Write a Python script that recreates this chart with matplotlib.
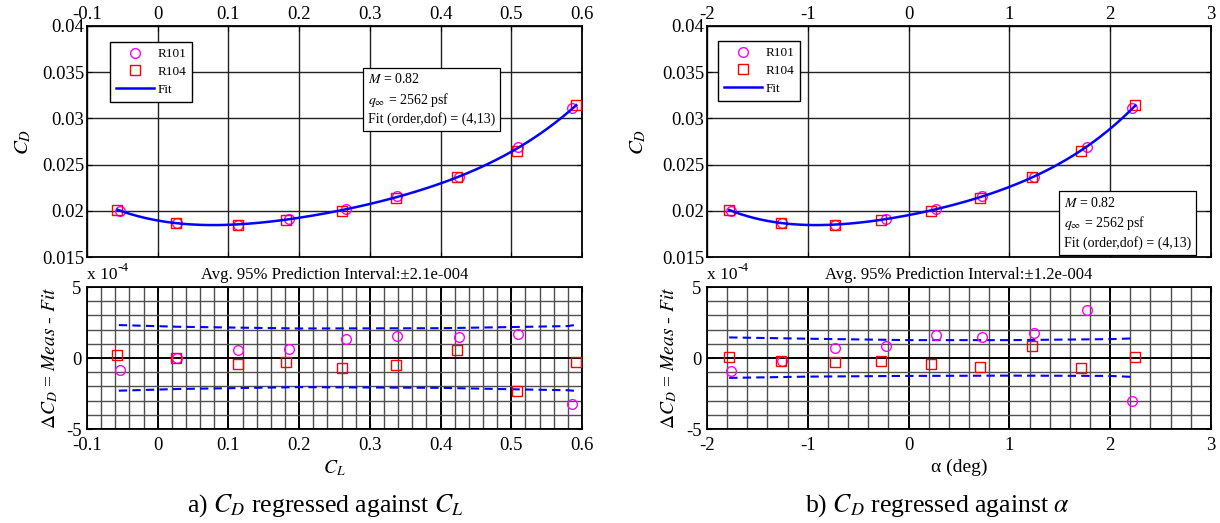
import numpy as np
import matplotlib.pyplot as plt
from matplotlib.ticker import MultipleLocator, FormatStrFormatter

# ========================= data ==============================================

# run R101 / R104 measurements against lift coefficient
cl_r101 = [-0.053, 0.028, 0.113, 0.185, 0.266, 0.339, 0.426, 0.509, 0.586]
cl_r104 = [-0.057, 0.026, 0.113, 0.181, 0.260, 0.337, 0.423, 0.508, 0.592]

# same runs against angle of attack (deg)
alpha_r101 = [-1.765, -1.26, -0.727, -0.224, 0.269, 0.728, 1.24, 1.767, 2.22]
alpha_r104 = [-1.78, -1.27, -0.727, -0.277, 0.219, 0.708, 1.227, 1.713, 2.25]

cd_r101 = [0.0200, 0.0187, 0.0185, 0.0191, 0.0202, 0.0216, 0.0237, 0.0269, 0.0311]
cd_r104 = [0.0201, 0.0187, 0.0185, 0.0190, 0.0200, 0.0214, 0.0237, 0.0265, 0.0314]

# residuals (x 1e-4)
res_cl_r101 = [-0.82, 0.0, 0.59, 0.66, 1.36, 1.55, 1.48, 1.66, -3.26]
res_cl_r104 = [0.19, 0.0, -0.42, -0.30, -0.68, -0.49, 0.54, -2.34, -0.26]
res_a_r101 = [-0.94, -0.21, 0.70, 0.84, 1.62, 1.45, 1.78, 3.35, -3.0]
res_a_r104 = [0.09, -0.23, -0.26, -0.19, -0.42, -0.61, 0.84, -0.68, 0.09]

# 95% prediction interval bounds (x 1e-4)
band_cl_x = [-0.055, 0.03, 0.2, 0.4, 0.5, 0.58, 0.592]
band_cl_hi = [2.32, 2.2, 2.08, 2.1, 2.18, 2.25, 2.34]
band_cl_lo = [-2.30, -2.18, -2.05, -2.1, -2.2, -2.27, -2.32]
band_a_x = [-1.78, -1.0, 0.0, 1.0, 2.0, 2.22]
band_a_hi = [1.45, 1.36, 1.26, 1.26, 1.33, 1.38]
band_a_lo = [-1.40, -1.31, -1.26, -1.24, -1.26, -1.33]

fit_order = 4
pi_cl_label = 'Avg. 95% Prediction Interval:\u00b12.1e-004'
pi_a_label = 'Avg. 95% Prediction Interval:\u00b11.2e-004'
info_text = '$M$ = 0.82\n$q_{\\infty}$ = 2562 psf\nFit (order,dof) = (4,13)'

plt.rcParams['font.family'] = ['Liberation Serif', 'DejaVu Serif']
plt.rcParams['mathtext.fontset'] = 'stix'
plt.rcParams['axes.unicode_minus'] = False

TICK_FS = 13.5

# ========================= helpers ===========================================

def _style_top(ax, xlim, xstep):
    ax.set_xlim(xlim)
    ax.set_ylim(0.015, 0.04)
    ax.xaxis.set_major_locator(MultipleLocator(xstep))
    ax.yaxis.set_major_locator(MultipleLocator(0.005))
    ax.xaxis.set_major_formatter(FormatStrFormatter('%g'))
    ax.yaxis.set_major_formatter(FormatStrFormatter('%g'))
    ax.tick_params(direction='in', top=True, right=True, labeltop=True,
                   labelbottom=False, labelsize=TICK_FS, pad=2)
    ax.grid(True, color='#222222', linewidth=1.0)
    ax.set_axisbelow(True)
    for s in ax.spines.values():
        s.set_linewidth(1.3)


def _style_bottom(ax, xlim, xstep, xminor):
    ax.set_xlim(xlim)
    ax.set_ylim(-5, 5)
    ax.xaxis.set_major_locator(MultipleLocator(xstep))
    ax.xaxis.set_minor_locator(MultipleLocator(xminor))
    ax.yaxis.set_major_locator(MultipleLocator(5))
    ax.yaxis.set_minor_locator(MultipleLocator(1))
    ax.xaxis.set_major_formatter(FormatStrFormatter('%g'))
    ax.yaxis.set_major_formatter(FormatStrFormatter('%g'))
    ax.tick_params(which='both', direction='in', top=True, right=True,
                   labelsize=TICK_FS, pad=4)
    ax.tick_params(axis='x', which='major', pad=6)
    ax.tick_params(which='minor', length=0)
    ax.grid(True, which='minor', color='#4f4f4f', linewidth=1.0)
    ax.grid(True, which='major', color='black', linewidth=1.4)
    ax.set_axisbelow(True)
    for s in ax.spines.values():
        s.set_linewidth(1.3)

    # exponent label, matlab style
    ax.text(0.0, 1.025, 'x 10', transform=ax.transAxes, ha='left',
            va='bottom', fontsize=12.5)
    ax.annotate('-4', xy=(0.0, 1.025), xycoords='axes fraction',
                xytext=(22, 7), textcoords='offset points', ha='left',
                va='bottom', fontsize=9.5)


def _panel(ax_top, ax_bot, x101, x104, res101, res104, bx, bhi, blo, xlim,
           xstep, xminor, xlabel, pi_label, info_xy, info_va, lab_x):

    # measured points and polynomial fit

    ax_top.plot(x101, cd_r101, 'o', mfc='none', mec='magenta', ms=7,
                mew=1.0, label='R101', zorder=3)
    ax_top.plot(x104, cd_r104, 's', mfc='none', mec='red', ms=7.5,
                mew=1.0, label='R104', zorder=3)
    xs = np.concatenate([x101, x104])
    ys = np.concatenate([cd_r101, cd_r104])
    coef = np.polyfit(xs, ys, fit_order)
    xf = np.linspace(xs.min(), xs.max(), 200)
    ax_top.plot(xf, np.polyval(coef, xf), '-', color='blue', lw=1.8,
                label='Fit', zorder=4)

    leg = ax_top.legend(loc='upper left', bbox_to_anchor=lab_x[2],
                        borderaxespad=0, fontsize=9.5, handlelength=2.9,
                        handletextpad=0.25, numpoints=1, fancybox=False,
                        framealpha=1, edgecolor='black', borderpad=0.45,
                        labelspacing=0.42)
    leg.get_frame().set_linewidth(1.0)

    ax_top.text(info_xy[0], info_xy[1], info_text, transform=ax_top.transAxes,
                ha='left', va=info_va, fontsize=10, linespacing=1.35,
                bbox=dict(boxstyle='square,pad=0.35', fc='white', ec='black',
                          lw=0.9), zorder=5)

    _style_top(ax_top, xlim, xstep)
    ax_top.set_ylabel('$C_D$', fontsize=15)
    ax_top.yaxis.set_label_coords(lab_x[0], 0.5)

    # residuals and prediction interval

    ax_bot.plot(x101, res101, 'o', mfc='none', mec='magenta', ms=7,
                mew=1.0, zorder=3)
    ax_bot.plot(x104, res104, 's', mfc='none', mec='red', ms=7.5,
                mew=1.0, zorder=3)
    ax_bot.plot(bx, bhi, '--', color='blue', lw=1.5, dashes=(4, 2.5), zorder=2)
    ax_bot.plot(bx, blo, '--', color='blue', lw=1.5, dashes=(4, 2.5), zorder=2)

    _style_bottom(ax_bot, xlim, xstep, xminor)
    ax_bot.set_xlabel(xlabel, fontsize=14, labelpad=3)
    ax_bot.set_ylabel('$\\Delta C_D$ = $Meas$ - $Fit$', fontsize=14)
    ax_bot.yaxis.set_label_coords(lab_x[1], 0.5)
    ax_bot.text(0.5, 1.03, pi_label, transform=ax_bot.transAxes, ha='center',
                va='bottom', fontsize=12)

# ========================= main ==============================================

if __name__ == '__main__':

    fig = plt.figure(figsize=(12.2, 5.23), dpi=100)

    ax_a_top = fig.add_axes([0.0713, 0.5086, 0.4057, 0.4417])
    ax_a_bot = fig.add_axes([0.0713, 0.1797, 0.4057, 0.2715])
    ax_b_top = fig.add_axes([0.5795, 0.5086, 0.4131, 0.4417])
    ax_b_bot = fig.add_axes([0.5795, 0.1797, 0.4131, 0.2715])

    _panel(ax_a_top, ax_a_bot, cl_r101, cl_r104, res_cl_r101, res_cl_r104,
           band_cl_x, band_cl_hi, band_cl_lo, (-0.1, 0.6), 0.1, 0.02,
           '$C_L$', pi_cl_label, (0.567, 0.80), 'top',
           (-0.109, -0.055, (0.046, 0.93)))

    _panel(ax_b_top, ax_b_bot, alpha_r101, alpha_r104, res_a_r101, res_a_r104,
           band_a_x, band_a_hi, band_a_lo, (-2, 3), 1, 0.2,
           '\u03b1 (deg)', pi_a_label, (0.708, 0.03), 'bottom',
           (-0.117, -0.056, (0.022, 0.935)))

    # sub-figure captions

    fig.text(325 / 1220, 1 - 506 / 523, 'a) $C_D$ regressed against $C_L$',
             ha='center', va='center', fontsize=18.5)
    fig.text(937 / 1220, 1 - 506 / 523, 'b) $C_D$ regressed against $\\alpha$',
             ha='center', va='center', fontsize=18.5)

    plt.savefig('out.png', dpi=100)
